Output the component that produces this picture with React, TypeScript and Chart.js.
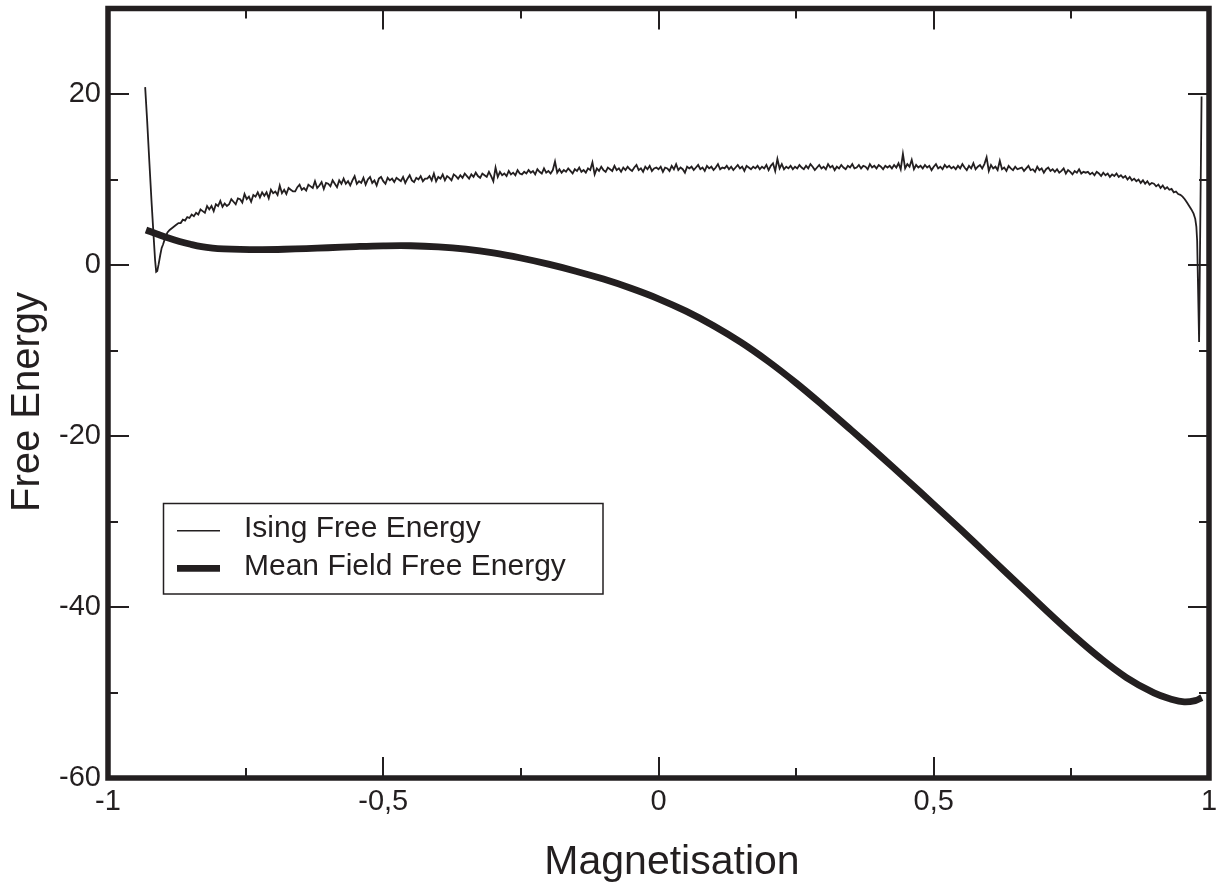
import { useEffect, useRef } from "react";
import { Chart, registerables } from "chart.js";

Chart.register(...registerables);

// ---------- data ----------
const X_TITLE = "Magnetisation";
const Y_TITLE = "Free Energy";
const SERIES_NAMES = ["Ising Free Energy", "Mean Field Free Energy"];

const X_MIN = -1;
const X_MAX = 1;
const Y_MIN = -60;
const Y_MAX = 30;
const X_MAJOR = [-1, -0.5, 0, 0.5, 1];
const X_MINOR = [-0.75, -0.25, 0.25, 0.75];
const Y_MAJOR = [-60, -40, -20, 0, 20];
const Y_MINOR = [-50, -30, -10, 10];

// Ising free energy: steep left edge, sampled noisy body, right-edge spike
const isingHeadX = [-0.9325, -0.929, -0.925, -0.921, -0.917, -0.9145, -0.9125, -0.9105, -0.908, -0.905, -0.9025];
const isingHeadY = [20.8, 17.0, 12.2, 7.5, 3.2, 0.6, -0.8, -0.7, 0.1, 1.2, 2.0];
const isingBodyStart = -0.9;
const isingBodyStep = 0.004;
const isingBodyY = [
  2.4, 3.2, 3.8, 4.1, 4.3, 4.5, 4.7, 4.9, 4.9, 5.3, 5.2, 5.6, 5.5, 5.9, 5.7,
  6.1, 5.9, 6.5, 6.3, 6.1, 6.9, 6.5, 6.9, 6.3, 7.1, 6.9, 7.5, 6.8, 7.2, 6.9,
  7.1, 7.7, 7.4, 7.1, 7.8, 7.7, 7.3, 8.3, 7.7, 8.0, 7.4, 8.2, 8.0, 8.5, 7.9,
  8.5, 8.1, 8.5, 7.8, 8.8, 8.4, 8.6, 8.2, 9.3, 8.4, 8.8, 8.3, 9.0, 8.8, 8.6,
  8.6, 9.1, 9.4, 8.8, 9.0, 8.7, 9.4, 9.2, 9.0, 9.8, 9.0, 9.3, 9.7, 8.9, 9.6,
  9.5, 9.2, 9.9, 9.5, 9.1, 9.9, 9.5, 10.1, 9.5, 9.8, 9.3, 9.9, 10.4, 9.5, 9.8,
  9.6, 10.2, 9.4, 10.0, 10.3, 9.6, 9.9, 9.3, 10.1, 10.3, 9.8, 9.5, 10.2, 9.9, 10.1,
  9.7, 10.2, 10.0, 9.8, 10.3, 9.6, 10.1, 10.5, 9.9, 9.7, 10.2, 10.0, 10.4, 9.8, 10.1,
  10.1, 10.4, 9.9, 10.7, 9.8, 10.3, 10.1, 10.6, 9.9, 10.4, 10.2, 9.9, 10.6, 10.4, 10.1,
  10.5, 10.2, 10.7, 10.4, 10.1, 10.6, 10.3, 10.8, 10.4, 10.2, 10.7, 10.5, 10.3, 10.9, 10.4,
  9.8, 11.4, 10.3, 10.9, 10.5, 10.7, 10.4, 11.0, 10.6, 10.8, 10.5, 11.1, 10.7, 10.6, 10.9,
  10.7, 11.1, 10.8, 11.0, 10.6, 11.2, 10.9, 10.7, 11.3, 10.8, 11.0, 10.7, 11.1, 12.1, 10.8,
  11.2, 10.8, 11.1, 10.9, 11.3, 11.0, 10.7, 11.2, 11.0, 11.4, 10.9, 11.1, 10.8, 11.3, 11.1,
  12.0, 10.6, 11.3, 11.0, 11.5, 11.1, 10.9, 11.4, 11.2, 11.0, 11.6, 11.1, 11.3, 10.9, 11.4,
  11.1, 11.5, 11.2, 11.0, 11.4, 11.7, 11.1, 11.3, 10.9, 11.5, 11.2, 11.6, 11.0, 11.3, 11.4,
  11.2, 11.5, 10.9, 11.4, 11.3, 11.0, 11.6, 11.2, 11.8, 11.1, 11.4, 11.2, 10.8, 11.5, 11.3,
  11.5, 11.1, 11.4, 11.7, 11.2, 11.4, 11.0, 11.6, 11.3, 11.5, 11.1, 11.4, 11.8, 11.2, 11.4,
  11.3, 11.6, 11.2, 11.5, 11.1, 11.4, 11.7, 11.3, 11.5, 11.0, 11.6, 11.4, 11.2, 11.5, 11.3,
  11.6, 11.2, 11.5, 11.3, 11.7, 11.1, 11.6, 11.9, 11.0, 12.4, 11.3, 11.8, 11.2, 11.5, 11.3,
  11.6, 11.2, 11.5, 11.3, 11.7, 11.4, 11.2, 11.6, 11.3, 11.8, 11.5, 11.1, 11.4, 11.7, 11.3,
  11.5, 11.2, 11.8, 11.4, 11.6, 11.1, 11.5, 11.3, 11.7, 11.4, 11.2, 11.6, 11.4, 11.8, 11.3,
  11.4, 11.7, 11.3, 11.6, 11.5, 11.2, 11.8, 11.4, 11.6, 11.3, 11.7, 11.5, 11.2, 11.6, 11.4,
  11.6, 11.3, 11.7, 11.4, 11.9, 11.2, 13.0, 11.3, 11.8, 11.5, 12.3, 11.2, 11.7, 11.4, 11.6,
  11.3, 11.7, 11.4, 11.6, 11.1, 11.5, 11.8, 11.3, 11.5, 11.2, 11.7, 11.4, 11.6, 11.3, 11.5,
  11.2, 11.6, 11.3, 11.8, 11.4, 11.1, 11.6, 11.3, 11.9, 11.2, 11.5, 11.7, 11.3, 11.8, 12.6,
  11.0, 11.7, 11.3, 11.5, 11.1, 12.2, 11.2, 11.4, 11.0, 11.6, 11.3, 11.1, 11.5, 11.2, 11.3,
  11.4, 11.0, 11.3, 11.6, 11.1, 11.2, 10.9, 11.5, 11.1, 11.3, 10.8, 11.2, 11.4, 11.0, 11.2,
  10.9, 11.2, 10.8, 11.0, 11.3, 10.7, 11.1, 10.9, 10.6, 11.0, 10.8, 11.2, 10.7, 10.9, 10.8,
  10.9, 10.6, 10.8, 10.5, 10.9, 10.7, 10.4, 10.8, 10.5, 10.7, 10.3, 10.6, 10.4, 10.7, 10.3,
  10.5, 10.2, 10.4, 10.0, 10.3, 9.9, 10.1, 9.8, 10.0, 9.6, 9.9, 9.5, 9.8, 9.4, 9.6,
  9.5, 9.2, 9.4, 9.0, 9.3, 8.9, 9.1, 8.8, 8.9, 8.5, 8.6, 8.3, 8.2, 8.0, 7.7,
  7.3, 6.9, 6.5, 6.0,
];
const isingTailX = [0.975, 0.977, 0.9785, 0.982, 0.9865];
const isingTailY = [5.4, 4.5, 2.8, -9.0, 19.7];

// Mean field free energy
const meanFieldX = [
  -0.931, -0.91, -0.89, -0.87, -0.85, -0.83, -0.81, -0.79, -0.76, -0.72,
  -0.68, -0.64, -0.6, -0.55, -0.5, -0.45, -0.4, -0.35, -0.3, -0.25,
  -0.2, -0.15, -0.1, -0.05, 0, 0.05, 0.1, 0.15, 0.2, 0.25,
  0.3, 0.35, 0.4, 0.45, 0.5, 0.55, 0.6, 0.65, 0.7, 0.75,
  0.8, 0.85, 0.9, 0.93, 0.955, 0.975, 0.987,
];
const meanFieldY = [
  4.1, 3.6, 3.15, 2.76, 2.42, 2.14, 1.97, 1.88, 1.82, 1.8,
  1.84, 1.92, 2.02, 2.15, 2.24, 2.25, 2.12, 1.85, 1.42, 0.82,
  0.1, -0.72, -1.65, -2.72, -3.95, -5.4, -7.1, -9.05, -11.3, -13.8,
  -16.5, -19.3, -22.15, -25.05, -28.0, -31.0, -34.05, -37.1, -40.15, -43.1,
  -45.85, -48.25, -50.05, -50.75, -51.1, -50.95, -50.6,
];

// ---------- styling ----------
const INK = "#231f20";
const FONT = '"Liberation Sans", Arial, Helvetica, sans-serif';

const fmt = (v: number) => String(v).replace(".", ",");

function buildIsing() {
  const pts: { x: number; y: number }[] = [];
  isingHeadX.forEach((x, i) => pts.push({ x, y: isingHeadY[i] }));
  isingBodyY.forEach((y, i) => pts.push({ x: isingBodyStart + i * isingBodyStep, y }));
  isingTailX.forEach((x, i) => pts.push({ x, y: isingTailY[i] }));
  return pts;
}

const framePlugin = {
  id: "frameAndLegend",
  afterDatasetsDraw(chart: any) {
    const { ctx, chartArea: a, scales } = chart;
    const xs = scales.x;
    const ys = scales.y;
    ctx.save();
    ctx.strokeStyle = INK;
    ctx.fillStyle = INK;

    // inward ticks on all four sides
    ctx.lineWidth = 2;
    ctx.beginPath();
    const xt: [number[], number][] = [[X_MAJOR, 21], [X_MINOR, 10]];
    for (const [vals, len] of xt) {
      for (const v of vals) {
        const px = Math.round(xs.getPixelForValue(v));
        ctx.moveTo(px, a.bottom);
        ctx.lineTo(px, a.bottom - len);
        ctx.moveTo(px, a.top);
        ctx.lineTo(px, a.top + len);
      }
    }
    const yt: [number[], number][] = [[Y_MAJOR, 21], [Y_MINOR, 10]];
    for (const [vals, len] of yt) {
      for (const v of vals) {
        const py = Math.round(ys.getPixelForValue(v));
        ctx.moveTo(a.left, py);
        ctx.lineTo(a.left + len, py);
        ctx.moveTo(a.right, py);
        ctx.lineTo(a.right - len, py);
      }
    }
    ctx.stroke();

    // thick frame
    ctx.lineWidth = 5.5;
    ctx.strokeRect(a.left, a.top, a.right - a.left, a.bottom - a.top);

    // legend box
    const lx = 163.5, ly = 503.5, lw = 439.5, lh = 90.5;
    ctx.lineWidth = 1.5;
    ctx.strokeRect(lx, ly, lw, lh);
    const rows = [530.7, 568.3];
    const baselines = [536.7, 575];
    ctx.font = `30px ${FONT}`;
    ctx.textAlign = "left";
    ctx.textBaseline = "alphabetic";
    chart.data.datasets.forEach((ds: any, i: number) => {
      ctx.lineWidth = i === 0 ? 1.5 : ds.borderWidth;
      ctx.beginPath();
      ctx.moveTo(177, rows[i]);
      ctx.lineTo(220, rows[i]);
      ctx.stroke();
      ctx.fillText(ds.label, 244, baselines[i]);
    });

    // axis titles
    ctx.font = `41px ${FONT}`;
    ctx.textAlign = "center";
    ctx.textBaseline = "alphabetic";
    ctx.fillText(X_TITLE, 672, 874);
    ctx.save();
    ctx.translate(39, 402);
    ctx.rotate(-Math.PI / 2);
    ctx.font = `40px ${FONT}`;
    ctx.fillText(Y_TITLE, 0, 0);
    ctx.restore();

    ctx.restore();
  },
};

export default function App() {
  const ref = useRef<HTMLCanvasElement | null>(null);

  useEffect(() => {
    if (!ref.current) return;
    const chart = new Chart(ref.current, {
      type: "line",
      data: {
        datasets: [
          {
            label: SERIES_NAMES[0],
            data: buildIsing(),
            borderColor: INK,
            borderWidth: 1.8,
            pointRadius: 0,
            tension: 0,
            fill: false,
          },
          {
            label: SERIES_NAMES[1],
            data: meanFieldX.map((x, i) => ({ x, y: meanFieldY[i] })),
            borderColor: INK,
            borderWidth: 6.8,
            pointRadius: 0,
            tension: 0.4,
            fill: false,
          },
        ],
      },
      options: {
        animation: false,
        responsive: false,
        devicePixelRatio: 1,
        events: [],
        layout: { padding: { left: 0, right: 16, top: 8.5, bottom: 0 } },
        plugins: { legend: { display: false }, tooltip: { enabled: false } },
        scales: {
          x: {
            type: "linear",
            min: X_MIN,
            max: X_MAX,
            grid: { display: false, drawTicks: false },
            border: { display: false },
            afterBuildTicks: (s: any) => {
              s.ticks = X_MAJOR.map((v) => ({ value: v }));
            },
            afterFit: (s: any) => {
              s.height = 110;
              s.paddingLeft = 0;
              s.paddingRight = 0;
            },
            ticks: {
              color: INK,
              padding: 7,
              maxRotation: 0,
              autoSkip: false,
              font: { family: FONT, size: 29 },
              callback: (v: any) => fmt(Number(v)),
            },
            title: { display: false },
          },
          y: {
            type: "linear",
            min: Y_MIN,
            max: Y_MAX,
            grid: { display: false, drawTicks: false },
            border: { display: false },
            afterBuildTicks: (s: any) => {
              s.ticks = Y_MAJOR.map((v) => ({ value: v }));
            },
            afterFit: (s: any) => {
              s.width = 108;
              s.paddingTop = 0;
              s.paddingBottom = 0;
            },
            ticks: {
              color: INK,
              padding: 7,
              autoSkip: false,
              font: { family: FONT, size: 29 },
              callback: (v: any) => fmt(Number(v)),
            },
            title: { display: false },
          },
        },
      },
      plugins: [framePlugin],
    } as any);
    return () => chart.destroy();
  }, []);

  return (
    <div style={{ position: "absolute", left: 0, top: 0, width: 1225, height: 888, background: "#fff" }}>
      <canvas ref={ref} width={1225} height={888} />
    </div>
  );
}
